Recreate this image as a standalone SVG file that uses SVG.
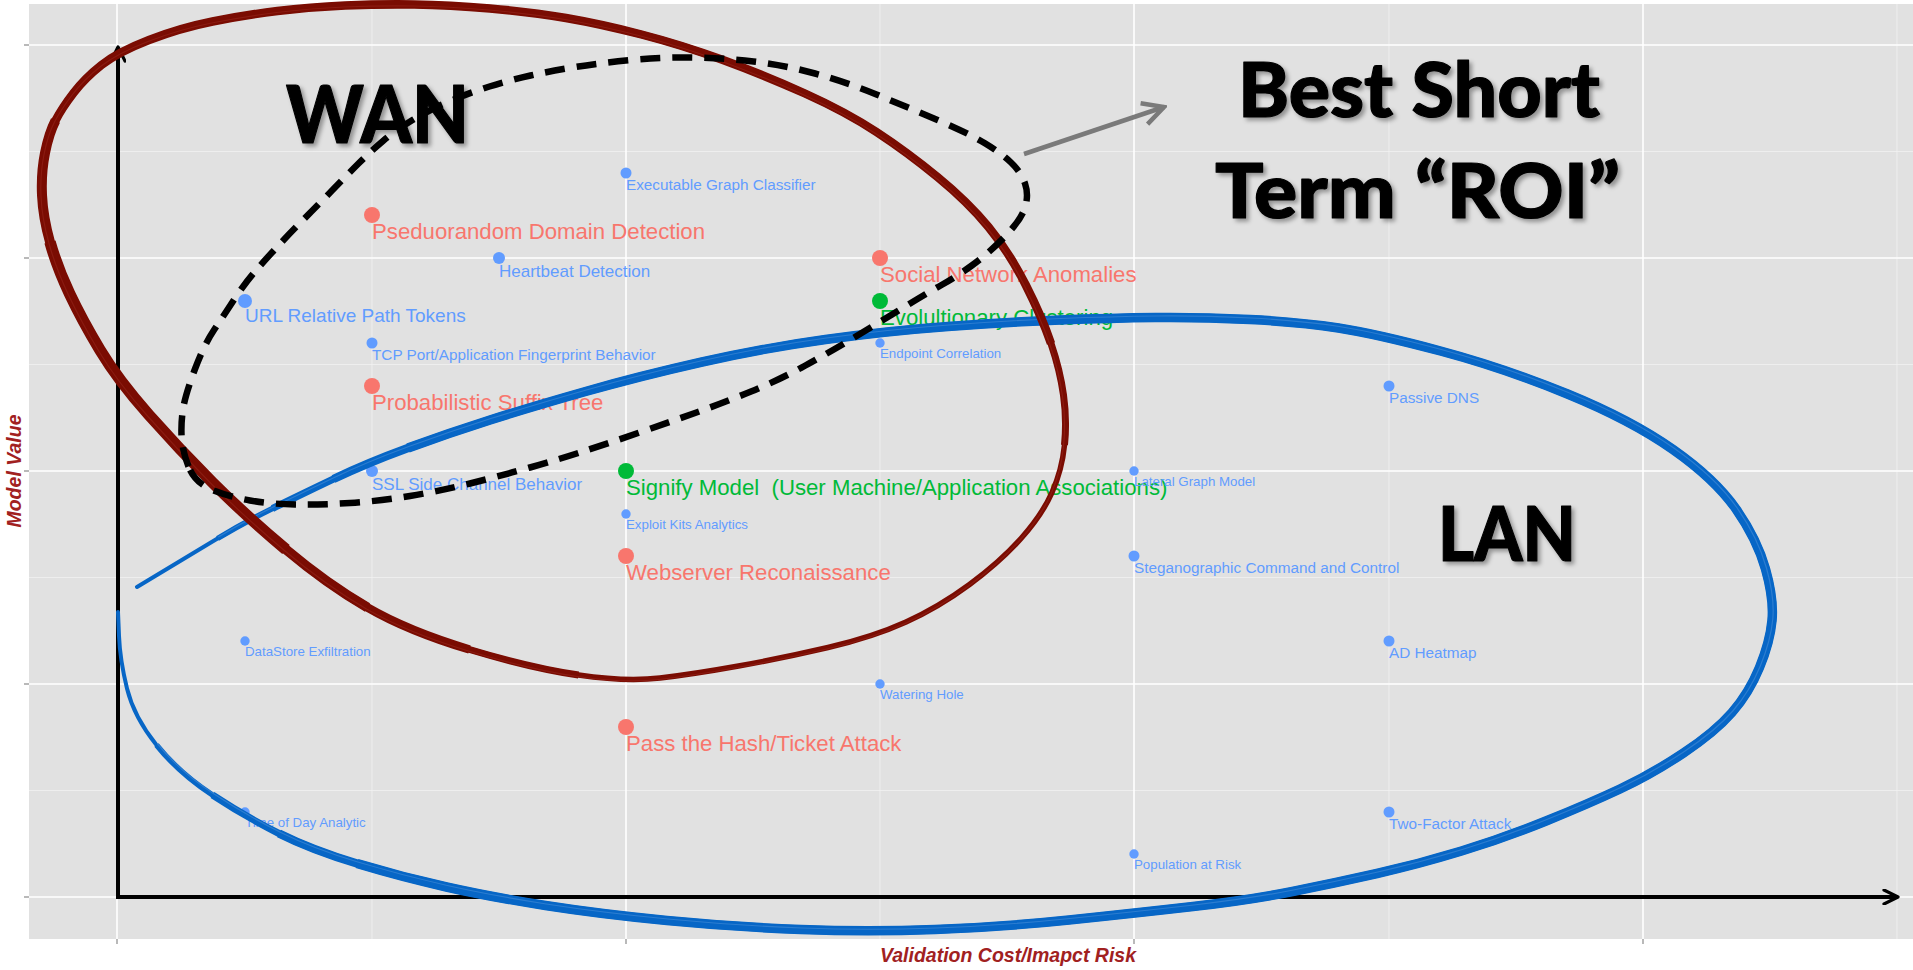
<svg xmlns="http://www.w3.org/2000/svg" width="1913" height="970" viewBox="0 0 1913 970">
<defs>
<style>
.lbl{font-family:"Liberation Sans",Arial,sans-serif;white-space:pre}
.r{fill:#F8766D}.g{fill:#00BA38}.b{fill:#619CFF}
.xl{font-size:22.2px}.u{font-size:19px}.l{font-size:17px}.m{font-size:15.3px}.s{font-size:13.3px}
.gmaj{stroke:#ffffff;stroke-width:1.6}
.gmin{stroke:#f1f1f1;stroke-width:0.8}
.tick{stroke:#8a8a8a;stroke-width:1.2}
.axt{font-family:"Liberation Sans",Arial,sans-serif;font-size:19.5px;font-weight:bold;font-style:italic;fill:#A1211F}
.big{font-family:Lato,"Open Sans","Liberation Sans",sans-serif;font-weight:900;fill:#000;stroke:#000;stroke-width:1.2;stroke-linejoin:round}
.wan{fill:none;stroke:#7A0C02;stroke-linecap:butt;stroke-linejoin:round}
.lan{fill:none;stroke:#0766C6;stroke-linecap:butt;stroke-linejoin:round}
.base{stroke-linecap:round}
</style>
<filter id="sh" x="-10%" y="-10%" width="130%" height="140%">
<feDropShadow dx="3" dy="3" stdDeviation="2" flood-color="#000" flood-opacity="0.35"/>
</filter>
<marker id="ahK" viewBox="0 0 18 16" refX="16" refY="8" markerWidth="18" markerHeight="16" markerUnits="userSpaceOnUse" orient="auto">
<path d="M2,1 L16,8 L2,15" fill="none" stroke="#000" stroke-width="3.2" stroke-linecap="round" stroke-linejoin="round"/>
</marker>
<marker id="ahG" viewBox="0 0 26 26" refX="23" refY="13" markerWidth="26" markerHeight="26" markerUnits="userSpaceOnUse" orient="auto">
<path d="M2,2 L23,13 L2,24" fill="none" stroke="#7a7a7a" stroke-width="4.5" stroke-linejoin="miter"/>
</marker>
</defs>

<rect x="0" y="0" width="1913" height="970" fill="#ffffff"/>
<rect x="29" y="4" width="1884" height="935" fill="#E1E1E1"/>

<g id="grid">
<line class="gmin" x1="29" y1="151.5" x2="1913" y2="151.5"/>
<line class="gmin" x1="29" y1="364.5" x2="1913" y2="364.5"/>
<line class="gmin" x1="29" y1="577.5" x2="1913" y2="577.5"/>
<line class="gmin" x1="29" y1="790.5" x2="1913" y2="790.5"/>
<line class="gmin" x1="372" y1="4" x2="372" y2="939"/>
<line class="gmin" x1="880" y1="4" x2="880" y2="939"/>
<line class="gmin" x1="1389" y1="4" x2="1389" y2="939"/>
<line class="gmin" x1="1897" y1="4" x2="1897" y2="939"/>
<line class="gmaj" x1="29" y1="45" x2="1913" y2="45"/>
<line class="gmaj" x1="29" y1="258" x2="1913" y2="258"/>
<line class="gmaj" x1="29" y1="471" x2="1913" y2="471"/>
<line class="gmaj" x1="29" y1="684" x2="1913" y2="684"/>
<line class="gmaj" x1="29" y1="897" x2="1913" y2="897"/>
<line class="gmaj" x1="117" y1="4" x2="117" y2="939"/>
<line class="gmaj" x1="626" y1="4" x2="626" y2="939"/>
<line class="gmaj" x1="1134" y1="4" x2="1134" y2="939"/>
<line class="gmaj" x1="1643" y1="4" x2="1643" y2="939"/>
<line class="tick" x1="24" y1="45" x2="29" y2="45"/>
<line class="tick" x1="24" y1="258" x2="29" y2="258"/>
<line class="tick" x1="24" y1="471" x2="29" y2="471"/>
<line class="tick" x1="24" y1="684" x2="29" y2="684"/>
<line class="tick" x1="24" y1="897" x2="29" y2="897"/>
<line class="tick" x1="117" y1="939" x2="117" y2="944"/>
<line class="tick" x1="626" y1="939" x2="626" y2="944"/>
<line class="tick" x1="1134" y1="939" x2="1134" y2="944"/>
<line class="tick" x1="1643" y1="939" x2="1643" y2="944"/>
</g>

<g id="axes">
<line x1="118" y1="897" x2="118" y2="47" stroke="#000" stroke-width="4" marker-end="url(#ahK)"/>
<line x1="116" y1="897" x2="1898" y2="897" stroke="#000" stroke-width="4" marker-end="url(#ahK)"/>
<text class="axt" x="1008" y="962" text-anchor="middle">Validation Cost/Imapct Risk</text>
<text class="axt" transform="translate(21,471) rotate(-90)" text-anchor="middle">Model Value</text>
</g>

<g id="n-executable"><circle class="b" cx="626" cy="173" r="5.5"/><text class="lbl b m" x="626" y="190">Executable Graph Classifier</text></g>
<g id="n-pseduorandom"><circle class="r" cx="372" cy="215" r="8"/><text class="lbl r xl" x="372" y="239">Pseduorandom Domain Detection</text></g>
<g id="n-heartbeat"><circle class="b" cx="499" cy="258" r="6"/><text class="lbl b l" x="499" y="277">Heartbeat Detection</text></g>
<g id="n-social"><circle class="r" cx="880" cy="258" r="8"/><text class="lbl r xl" x="880" y="282">Social Network Anomalies</text></g>
<g id="n-url"><circle class="b" cx="245" cy="301" r="7"/><text class="lbl b u" x="245" y="322">URL Relative Path Tokens</text></g>
<g id="n-evolultionary"><circle class="g" cx="880" cy="301" r="8"/><text class="lbl g xl" x="880" y="325">Evolultionary Clustering</text></g>
<g id="n-tcp"><circle class="b" cx="372" cy="343" r="5.5"/><text class="lbl b m" x="372" y="360">TCP Port/Application Fingerprint Behavior</text></g>
<g id="n-endpoint"><circle class="b" cx="880" cy="343" r="4.7"/><text class="lbl b s" x="880" y="358">Endpoint Correlation</text></g>
<g id="n-passive-dns"><circle class="b" cx="1389" cy="386" r="5.5"/><text class="lbl b m" x="1389" y="403">Passive DNS</text></g>
<g id="n-probabilistic"><circle class="r" cx="372" cy="386" r="8"/><text class="lbl r xl" x="372" y="410">Probabilistic Suffix Tree</text></g>
<g id="n-ssl"><circle class="b" cx="372" cy="471" r="6"/><text class="lbl b l" x="372" y="490">SSL Side Channel Behavior</text></g>
<g id="n-signify"><circle class="g" cx="626" cy="471" r="8"/><text class="lbl g xl" x="626" y="495">Signify Model  (User Machine/Application Associations)</text></g>
<g id="n-lateral"><circle class="b" cx="1134" cy="471" r="4.7"/><text class="lbl b s" x="1134" y="486">Lateral Graph Model</text></g>
<g id="n-exploit"><circle class="b" cx="626" cy="514" r="4.7"/><text class="lbl b s" x="626" y="529">Exploit Kits Analytics</text></g>
<g id="n-webserver"><circle class="r" cx="626" cy="556" r="8"/><text class="lbl r xl" x="626" y="580">Webserver Reconaissance</text></g>
<g id="n-stegano"><circle class="b" cx="1134" cy="556" r="5.5"/><text class="lbl b m" x="1134" y="573">Steganographic Command and Control</text></g>
<g id="n-datastore"><circle class="b" cx="245" cy="641" r="4.7"/><text class="lbl b s" x="245" y="656">DataStore Exfiltration</text></g>
<g id="n-ad"><circle class="b" cx="1389" cy="641" r="5.5"/><text class="lbl b m" x="1389" y="658">AD Heatmap</text></g>
<g id="n-watering"><circle class="b" cx="880" cy="684" r="4.7"/><text class="lbl b s" x="880" y="699">Watering Hole</text></g>
<g id="n-pass"><circle class="r" cx="626" cy="727" r="8"/><text class="lbl r xl" x="626" y="751">Pass the Hash/Ticket Attack</text></g>
<g id="n-timeofday"><circle class="b" cx="245" cy="812" r="4.7"/><text class="lbl b s" x="245" y="827">Time of Day Analytic</text></g>
<g id="n-twofactor"><circle class="b" cx="1389" cy="812" r="5.5"/><text class="lbl b m" x="1389" y="829">Two-Factor Attack</text></g>
<g id="n-population"><circle class="b" cx="1134" cy="854" r="4.7"/><text class="lbl b s" x="1134" y="869">Population at Risk</text></g>

<g id="lan-loop">
<path class="lan base" stroke-width="4" d="M137,587 Q190,555 217.5,538.5 T272.5,508.5 T333.5,479 T408,448 T490,420 T585.5,391.5 T702,362 T825.5,339.5 T948,326.5 T1060,320 T1155.5,317.5 T1250,319.5 T1338.5,328 T1440.5,351 T1567.5,394 T1673,449.5 T1736,509 T1765.5,569 T1772,620.5 T1759.5,667.5 T1732,712.5 T1683.5,753 T1620,789 T1546,821 T1461.5,851 T1377,873.5 T1292.5,891.5 T1193,906.5 T1069,920 T935,929.5 T801,929.5 T667,920.5 T545.5,905.5 T446.5,887 T357,863.5 T279,833.5 T212.5,795 T156.5,745 T127,688.5 T119,636 T118,612"/>
<path class="lan" stroke-width="5.5" d="M217.5,538.5 Q245,522 272.5,508.5 T333.5,479 T408,448 T490,420 T585.5,391.5 T702,362 T825.5,339.5 T948,326.5 T1060,320 T1155.5,317.5 T1250,319.5 T1338.5,328 T1440.5,351 T1567.5,394 T1673,449.5 T1736,509 T1765.5,569 T1772,620.5 T1759.5,667.5 T1732,712.5 T1683.5,753 T1620,789 T1546,821 T1461.5,851 T1377,873.5 T1292.5,891.5 T1193,906.5 T1069,920 T935,929.5 T801,929.5 T667,920.5 T545.5,905.5 T446.5,887 T357,863.5 T279,833.5 T212.5,795 T156.5,745"/>
<path class="lan" stroke-width="7" d="M272.5,508.5 Q300,495 333.5,479 T408,448 T490,420 T585.5,391.5 T702,362 T825.5,339.5 T948,326.5 T1060,320 T1155.5,317.5 T1250,319.5 T1338.5,328 T1440.5,351 T1567.5,394 T1673,449.5 T1736,509 T1765.5,569 T1772,620.5 T1759.5,667.5 T1732,712.5 T1683.5,753 T1620,789 T1546,821 T1461.5,851 T1377,873.5 T1292.5,891.5 T1193,906.5 T1069,920 T935,929.5 T801,929.5 T667,920.5 T545.5,905.5 T446.5,887 T357,863.5 T279,833.5 T212.5,795"/>
<path class="lan" stroke-width="8.5" d="M333.5,479 Q367,463 408,448 T490,420 T585.5,391.5 T702,362 T825.5,339.5 T948,326.5 T1060,320 T1155.5,317.5 T1250,319.5 T1338.5,328 T1440.5,351 T1567.5,394 T1673,449.5 T1736,509 T1765.5,569 T1772,620.5 T1759.5,667.5 T1732,712.5 T1683.5,753 T1620,789 T1546,821 T1461.5,851 T1377,873.5 T1292.5,891.5 T1193,906.5 T1069,920 T935,929.5 T801,929.5 T667,920.5 T545.5,905.5 T446.5,887 T357,863.5 T279,833.5"/>
<path class="lan" stroke-width="9.5" d="M408,448 Q449,433 490,420 T585.5,391.5 T702,362 T825.5,339.5 T948,326.5 T1060,320 T1155.5,317.5 T1250,319.5 T1338.5,328 T1440.5,351 T1567.5,394 T1673,449.5 T1736,509 T1765.5,569 T1772,620.5 T1759.5,667.5 T1732,712.5 T1683.5,753 T1620,789 T1546,821 T1461.5,851 T1377,873.5 T1292.5,891.5 T1193,906.5 T1069,920 T935,929.5 T801,929.5 T667,920.5 T545.5,905.5 T446.5,887 T357,863.5"/>
<path fill="none" stroke="#4a8fd8" stroke-width="1.2" opacity="0.55" transform="translate(0.8,-1.5)" d="M217.5,538.5 Q245,522 272.5,508.5 T333.5,479 T408,448 T490,420 T585.5,391.5 T702,362 T825.5,339.5 T948,326.5 T1060,320 T1155.5,317.5 T1250,319.5 T1338.5,328 T1440.5,351 T1567.5,394 T1673,449.5 T1736,509 T1765.5,569 T1772,620.5 T1759.5,667.5 T1732,712.5 T1683.5,753 T1620,789 T1546,821 T1461.5,851 T1377,873.5 T1292.5,891.5 T1193,906.5 T1069,920 T935,929.5 T801,929.5 T667,920.5 T545.5,905.5 T446.5,887 T357,863.5 T279,833.5 T212.5,795 T156.5,745"/>
</g>

<g id="wan-loop">
<path class="wan base" stroke-width="5.5" d="M660,678 Q626,682 578.5,675 T469.5,649.5 T367.5,607.5 T286,549.5 T212.5,482.5 T149,415 T100,350 T69.5,293.5 T50,242 T42,195 T45,153 T55.5,120.5 T73.5,93 T101.5,65 T149,40 T212.5,21.5 T277.5,11 T345,5.5 T414.5,4.5 T490,8.5 T566,18 T641.5,34.5 T723,60 T805,93.5 T876.5,132 T937.5,177 T988.5,227 T1025.5,284.5 T1051,343.5 T1063.5,395 T1064.5,445 T1052,492.5 T1021,538.5 T969.5,584.5 T906,622 T828,647.5 T738.5,666 T660,678 Z"/>
<path class="wan" stroke-width="7" d="M578.5,675 Q531,668 469.5,649.5 T367.5,607.5 T286,549.5 T212.5,482.5 T149,415 T100,350 T69.5,293.5 T50,242 T42,195 T45,153 T55.5,120.5 T73.5,93 T101.5,65 T149,40 T212.5,21.5 T277.5,11 T345,5.5 T414.5,4.5 T490,8.5 T566,18 T641.5,34.5 T723,60 T805,93.5 T876.5,132 T937.5,177 T988.5,227 T1025.5,284.5 T1051,343.5 T1063.5,395 T1064.5,445"/>
<path class="wan" stroke-width="8.5" d="M469.5,649.5 Q408,631 367.5,607.5 T286,549.5 T212.5,482.5 T149,415 T100,350 T69.5,293.5 T50,242 T42,195 T45,153 T55.5,120.5 T73.5,93 T101.5,65 T149,40 T212.5,21.5 T277.5,11 T345,5.5 T414.5,4.5 T490,8.5 T566,18 T641.5,34.5 T723,60 T805,93.5 T876.5,132 T937.5,177 T988.5,227 T1025.5,284.5 T1051,343.5"/>
<path class="wan" stroke-width="10" d="M367.5,607.5 Q327,584 286,549.5 T212.5,482.5 T149,415 T100,350 T69.5,293.5 T50,242 T42,195 T45,153 T55.5,120.5"/>
<path class="wan" stroke-width="11.5" d="M286,549.5 Q245,515 212.5,482.5 T149,415 T100,350 T69.5,293.5 T50,242"/>
<path fill="none" stroke="#9a2a20" stroke-width="1.2" opacity="0.5" transform="translate(-1,1.5)" d="M660,678 Q626,682 578.5,675 T469.5,649.5 T367.5,607.5 T286,549.5 T212.5,482.5 T149,415 T100,350 T69.5,293.5 T50,242 T42,195 T45,153 T55.5,120.5 T73.5,93 T101.5,65 T149,40 T212.5,21.5 T277.5,11 T345,5.5 T414.5,4.5 T490,8.5 T566,18 T641.5,34.5 T723,60 T805,93.5 T876.5,132 T937.5,177 T988.5,227 T1025.5,284.5 T1051,343.5 T1063.5,395 T1064.5,445 T1052,492.5 T1021,538.5 T969.5,584.5 T906,622 T828,647.5 T738.5,666 T660,678 Z"/>
</g>

<g id="roi-loop">
<path d="M188.5,466.5 Q182,450 181.5,435 T183.5,406.5 T195,369 T214,330 T234.5,299 T255,271.5 T277.5,246.5 T304,219 T332.5,190 T358.5,163.5 T383,141 T412.5,120 T449,101.5 T489.5,86.5 T530.5,75.5 T575.5,67 T631,60 T692.5,57.5 T753.5,61.5 T815,73.5 T876.5,94.5 T937.5,120 T984.5,143 T1011,162.5 T1025,183.5 T1025,207.5 T1005,236.5 T972.5,265 T941.5,285 T903.5,307.5 T855,337 T804.5,366 T751,391.5 T695,413 T638,433 T584.5,451 T530,467.5 T470,483.5 T410,496 T350,503 T295,504.5 T250,500.5 T212.5,490 T188.5,466.5 Z" fill="none" stroke="#000" stroke-width="6.5" stroke-dasharray="20 12"/>
</g>

<g id="connectors">
<line x1="1024" y1="154" x2="1164" y2="107" stroke="#7a7a7a" stroke-width="4.5" marker-end="url(#ahG)"/>
</g>

<g id="n-wan" filter="url(#sh)"><text class="big" x="286" y="143" font-size="80" textLength="183" lengthAdjust="spacingAndGlyphs">WAN</text></g>
<g id="n-lan" filter="url(#sh)"><text class="big" x="1438" y="561" font-size="77" textLength="138" lengthAdjust="spacingAndGlyphs">LAN</text></g>
<g id="n-roi" filter="url(#sh)">
<text class="big" x="1238" y="117" font-size="76" textLength="362" lengthAdjust="spacingAndGlyphs">Best Short</text>
<text class="big" x="1215" y="218" font-size="76" textLength="405" lengthAdjust="spacingAndGlyphs">Term “ROI”</text>
</g>
</svg>
